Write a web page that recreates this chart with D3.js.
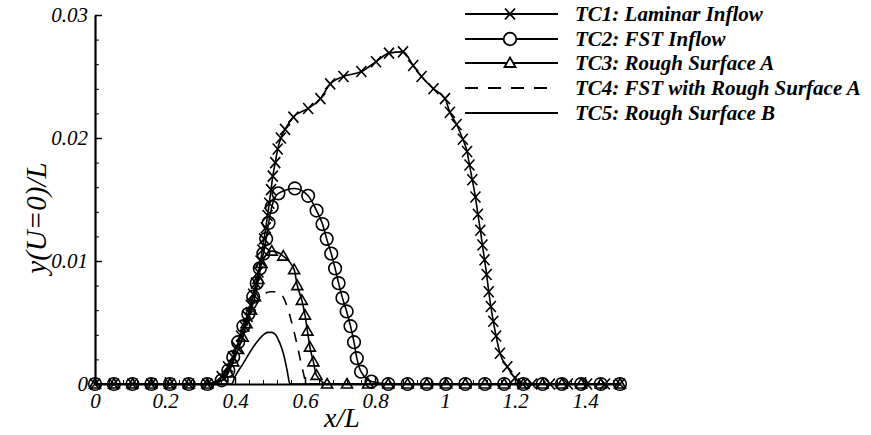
<!DOCTYPE html>
<html>
<head>
<meta charset="utf-8">
<script src="https://cdn.jsdelivr.net/npm/d3@7"></script>
<style>
  html, body { margin: 0; padding: 0; background: #fff; }
  svg { display: block; }
  .tick text { font-family: "Liberation Serif", "Times New Roman", serif; font-style: italic; font-size: 21px; fill: #000; }
</style>
</head>
<body>
<svg id="chart" width="871" height="435"></svg>
<script>
// Zero-velocity line height y(U=0)/L along the plate for five test cases.
const tc1 = [
  [0,0],[0.054,0],[0.107,0],[0.161,0],[0.214,0],[0.268,0],[0.321,0],
  [0.362,0.0006],[0.38,0.0014],[0.394,0.0022],[0.405,0.003],[0.417,0.0039],[0.427,0.0047],
  [0.436,0.0055],[0.445,0.0064],[0.452,0.0073],[0.46,0.0082],[0.467,0.0091],[0.473,0.01],
  [0.478,0.0109],[0.483,0.0118],[0.488,0.0127],[0.493,0.0137],[0.498,0.0147],[0.503,0.0158],
  [0.508,0.0169],[0.515,0.018],[0.522,0.0191],[0.531,0.02],[0.543,0.0207],[0.567,0.0217],
  [0.609,0.0224],[0.644,0.0232],[0.672,0.0244],[0.71,0.025],[0.761,0.0254],[0.803,0.0262],
  [0.84,0.0269],[0.88,0.027],[0.909,0.0259],[0.933,0.025],[0.967,0.024],[1.0,0.0232],
  [1.014,0.0221],[1.033,0.0211],[1.051,0.0199],[1.063,0.0189],[1.07,0.0178],[1.078,0.0166],
  [1.087,0.0152],[1.094,0.0138],[1.101,0.0125],[1.107,0.0113],[1.113,0.0101],[1.119,0.0089],
  [1.125,0.0075],[1.131,0.0063],[1.138,0.0051],[1.146,0.0039],[1.157,0.0025],[1.178,0.0014],
  [1.2,0.0005],[1.222,0],[1.249,0],[1.3,0],[1.351,0],[1.406,0],[1.457,0],[1.5,0]
];
const tc2 = [
  [0,0],[0.054,0],[0.107,0],[0.161,0],[0.214,0],[0.268,0],[0.321,0],
  [0.362,0.0003],[0.381,0.0011],[0.395,0.0022],[0.409,0.0034],[0.424,0.0047],[0.438,0.0057],
  [0.452,0.0071],[0.462,0.0082],[0.471,0.0094],[0.481,0.0106],[0.489,0.0118],[0.496,0.0131],
  [0.505,0.0144],[0.524,0.0155],[0.571,0.0159],[0.609,0.0153],[0.633,0.0141],[0.65,0.013],
  [0.662,0.0118],[0.675,0.0106],[0.686,0.0094],[0.696,0.0082],[0.707,0.007],[0.719,0.0059],
  [0.73,0.0047],[0.74,0.0034],[0.748,0.0021],[0.76,0.001],[0.79,0.0002],[0.838,0],
  [0.893,0],[0.948,0],[1.003,0],[1.058,0],[1.114,0],[1.169,0],[1.224,0],[1.279,0],
  [1.334,0],[1.389,0],[1.445,0],[1.5,0]
];
const tc3 = [
  [0,0],[0.054,0],[0.107,0],[0.161,0],[0.214,0],[0.268,0],[0.321,0],
  [0.365,0.0003],[0.381,0.0009],[0.395,0.0018],[0.409,0.0028],[0.422,0.0038],[0.433,0.0049],
  [0.446,0.006],[0.457,0.0071],[0.467,0.0085],[0.476,0.0098],[0.505,0.0108],[0.538,0.0104],
  [0.569,0.0093],[0.578,0.008],[0.591,0.0068],[0.6,0.0056],[0.607,0.0043],[0.614,0.003],
  [0.624,0.0018],[0.633,0.0007],[0.663,0],[0.72,0],[0.78,0],[0.838,0],
  [0.893,0],[0.948,0],[1.003,0],[1.058,0],[1.114,0],[1.169,0],[1.224,0],[1.279,0],
  [1.334,0],[1.389,0],[1.445,0],[1.5,0]
];
const tc4 = [
  [0,0],[0.36,0],[0.38,0.001],[0.4,0.0023],[0.42,0.0037],[0.44,0.0052],[0.46,0.0064],
  [0.48,0.0072],[0.5,0.0075],[0.52,0.0075],[0.535,0.0072],[0.55,0.0062],[0.562,0.005],
  [0.575,0.0035],[0.588,0.0018],[0.597,0.0007],[0.603,0],[1.5,0]
];
const tc5 = [
  [0,0],[0.39,0],[0.4,0.0006],[0.424,0.0017],[0.443,0.0026],[0.462,0.0034],[0.481,0.004],
  [0.493,0.0042],[0.505,0.0042],[0.516,0.004],[0.527,0.0034],[0.538,0.0025],[0.549,0.0011],
  [0.557,0],[1.5,0]
];

const xTicks = [0, 0.2, 0.4, 0.6, 0.8, 1, 1.2, 1.4];
const xTickLabels = ["0", "0.2", "0.4", "0.6", "0.8", "1", "1.2", "1.4"];
const yTicks = [0, 0.01, 0.02, 0.03];
const yTickLabels = ["0", "0.01", "0.02", "0.03"];
const legendLabels = [
  "TC1: Laminar Inflow",
  "TC2: FST Inflow",
  "TC3: Rough Surface A",
  "TC4: FST with Rough Surface A",
  "TC5: Rough Surface B"
];

const svg = d3.select("#chart");
const x = d3.scaleLinear().domain([0, 1.5]).range([95, 620]);
const y = d3.scaleLinear().domain([0, 0.03]).range([384, 15]);

const series = [
  { data: tc1, marker: "cross", dash: null },
  { data: tc2, marker: "circle", dash: null },
  { data: tc3, marker: "triangle", dash: null },
  { data: tc4, marker: null, dash: "10,9" },
  { data: tc5, marker: null, dash: null }
];

// marker path generators, centred on 0,0
function markerPath(kind) {
  if (kind === "cross") return "M-5,-5.5L5,5.5M5,-5.5L-5,5.5";
  if (kind === "circle") return d3.symbol(d3.symbolCircle, 125)();
  if (kind === "triangle") return "M0,-5.5L5.5,4L-5.5,4Z";
  return "";
}

// minor ticks
const minorX = d3.range(0, 1.5001, 0.04).filter(v => v <= 1.5);
const minorY = d3.range(0, 0.03001, 0.002);

svg.append("g")
  .attr("transform", `translate(0,${y(0)})`)
  .call(d3.axisBottom(x).tickValues(minorX).tickSize(-4).tickFormat(""))
  .call(g => g.select(".domain").remove())
  .call(g => g.selectAll("line").attr("stroke", "#000").attr("stroke-width", 1));

svg.append("g")
  .attr("transform", `translate(${x(0)},0)`)
  .call(d3.axisLeft(y).tickValues(minorY).tickSize(-4).tickFormat(""))
  .call(g => g.select(".domain").remove())
  .call(g => g.selectAll("line").attr("stroke", "#000").attr("stroke-width", 1));

// curves
const line = d3.line().x(d => x(d[0])).y(d => y(d[1])).curve(d3.curveMonotoneX);
series.forEach(s => {
  svg.append("path")
    .datum(s.data)
    .attr("d", line)
    .attr("fill", "none")
    .attr("stroke", "#000")
    .attr("stroke-width", 1.6)
    .attr("stroke-dasharray", s.dash);
  if (s.marker) {
    svg.append("g").selectAll("path")
      .data(s.data)
      .join("path")
      .attr("transform", d => `translate(${x(d[0])},${y(d[1])})`)
      .attr("d", markerPath(s.marker))
      .attr("fill", "none")
      .attr("stroke", "#000")
      .attr("stroke-width", 1.6);
  }
});

// main axes
svg.append("g")
  .attr("transform", `translate(0,${y(0)})`)
  .call(d3.axisBottom(x).tickValues(xTicks).tickSize(-7).tickSizeOuter(0).tickPadding(9)
    .tickFormat((d, i) => xTickLabels[i]))
  .call(g => g.select(".domain").attr("stroke-width", 2.2))
  .call(g => g.selectAll("line").attr("stroke-width", 1.5));

svg.append("g")
  .attr("transform", `translate(${x(0)},0)`)
  .call(d3.axisLeft(y).tickValues(yTicks).tickSize(-7).tickSizeOuter(0).tickPadding(7)
    .tickFormat((d, i) => yTickLabels[i]))
  .call(g => g.select(".domain").attr("stroke-width", 2.2))
  .call(g => g.selectAll("line").attr("stroke-width", 1.5));

// axis titles
svg.append("text")
  .attr("x", 342).attr("y", 427)
  .attr("text-anchor", "middle")
  .style("font-family", '"Liberation Serif", serif')
  .style("font-style", "italic")
  .style("font-size", "28px")
  .text("x/L");

svg.append("text")
  .attr("transform", "translate(46,218) rotate(-90)")
  .attr("text-anchor", "middle")
  .style("font-family", '"Liberation Serif", serif')
  .style("font-style", "italic")
  .style("font-size", "29px")
  .text("y(U=0)/L");

// legend
const legendRows = [14, 39, 63, 88, 113];
const lg = svg.append("g");
series.forEach((s, i) => {
  const yy = legendRows[i];
  lg.append("line")
    .attr("x1", 465).attr("x2", s.dash ? 550 : 558)
    .attr("y1", yy).attr("y2", yy)
    .attr("stroke", "#000")
    .attr("stroke-width", 2)
    .attr("stroke-dasharray", s.dash ? "13,10" : null);
  if (s.marker) {
    lg.append("path")
      .attr("transform", `translate(510,${yy})`)
      .attr("d", markerPath(s.marker))
      .attr("fill", s.marker === "cross" ? "none" : "#fff")
      .attr("stroke", "#000")
      .attr("stroke-width", 1.8);
  }
  lg.append("text")
    .attr("x", 575).attr("y", yy)
    .attr("dy", "0.35em")
    .style("font-family", '"Liberation Serif", serif')
    .style("font-style", "italic")
    .style("font-weight", "bold")
    .style("font-size", "21px")
    .text(legendLabels[i]);
});
</script>
</body>
</html>
